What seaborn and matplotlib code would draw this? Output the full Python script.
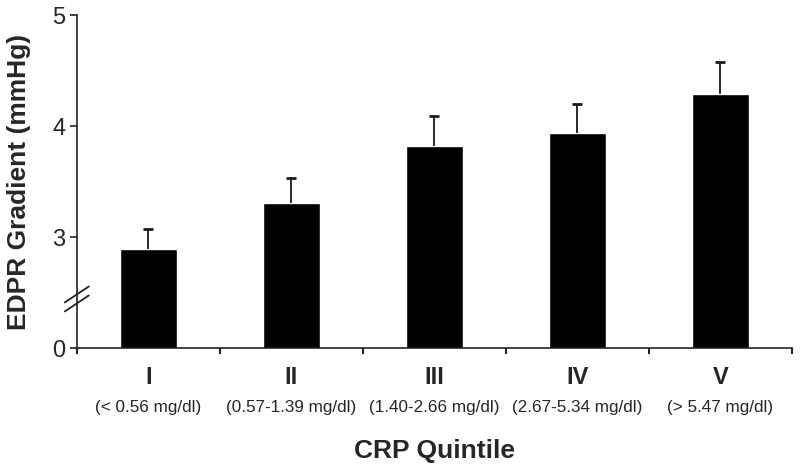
import matplotlib
matplotlib.use('Agg')
import matplotlib.pyplot as plt
import matplotlib.transforms as mtransforms
import seaborn as sns
import pandas as pd

# --- Data ---
quintiles = ['I', 'II', 'III', 'IV', 'V']
crp_ranges = ['(< 0.56 mg/dl)', '(0.57-1.39 mg/dl)', '(1.40-2.66 mg/dl)',
              '(2.67-5.34 mg/dl)', '(> 5.47 mg/dl)']
edpr_mean = [2.89, 3.31, 3.82, 3.94, 4.29]
edpr_err = [0.18, 0.22, 0.27, 0.26, 0.29]   # upper error only

# broken axis: "0" is drawn where 2 would sit
y_ticks = [2, 3, 4, 5]
y_tick_labels = ['0', '3', '4', '5']

sns.set_style("ticks")
plt.rcParams['font.family'] = ['Liberation Sans', 'DejaVu Sans']

df = pd.DataFrame({'quintile': quintiles, 'edpr': edpr_mean})

fig = plt.figure(figsize=(8, 4.71), dpi=100)
ax = fig.add_axes([0.096, 0.261, 0.894, 0.707])

sns.barplot(data=df, x='quintile', y='edpr', color='black', width=0.4,
            saturation=1, errorbar=None, ax=ax)
eb = ax.errorbar(x=list(range(len(quintiles))), y=edpr_mean,
                 yerr=[[0] * len(edpr_err), edpr_err], fmt='none',
                 ecolor='#1a1a1a', elinewidth=1.3, capsize=3.5, capthick=2, zorder=3)
# hide the (zero-length) lower caps
for cap in eb[1]:
    if list(cap.get_ydata()) == edpr_mean:
        cap.set_visible(False)

# axes look
sns.despine(ax=ax)
for side in ['left', 'bottom']:
    ax.spines[side].set_linewidth(1.2)
    ax.spines[side].set_color('#222222')

ax.set_ylim(2, 5)
ax.set_yticks(y_ticks)
ax.set_yticklabels(y_tick_labels)
ax.tick_params(axis='y', length=5, width=1.2, labelsize=17, pad=3, color='#222222')

# ticks between categories, labels at category centers
ax.set_xticks([i - 0.5 for i in range(len(quintiles) + 1)])
ax.set_xticklabels([''] * (len(quintiles) + 1))
ax.set_xticks(list(range(len(quintiles))), minor=True)
ax.set_xticklabels(quintiles, minor=True, fontweight='bold')
ax.tick_params(axis='x', which='major', length=4, width=1.5, color='#222222')
ax.tick_params(axis='x', which='minor', length=0, pad=13, labelsize=17)
ax.set_xlim(-0.5, len(quintiles) - 0.5)

trans = mtransforms.blended_transform_factory(ax.transData, ax.transAxes)
for i, r in enumerate(crp_ranges):
    ax.text(i, -0.177, r, transform=trans, ha='center', va='center', fontsize=12.3)

ax.set_xlabel('CRP Quintile', fontsize=19, fontweight='bold')
ax.xaxis.set_label_coords(0.5, -0.272)
ax.set_ylabel('EDPR Gradient (mmHg)', fontsize=19, fontweight='bold')
ax.yaxis.set_label_coords(-0.064, 0.5)

# axis break marks
for yc in [0.161, 0.134]:
    ax.plot([-0.0168, 0.0168], [yc - 0.024, yc + 0.024], transform=ax.transAxes,
            color='#222222', lw=1.3, clip_on=False)

fig.savefig('out.png', dpi=100)
